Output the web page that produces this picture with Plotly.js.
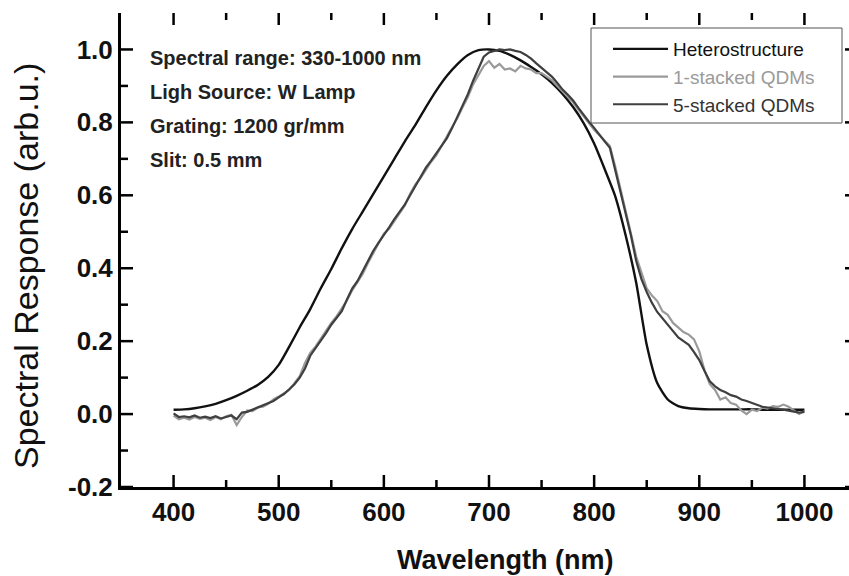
<!DOCTYPE html>
<html>
<head>
<meta charset="utf-8">
<script src="https://cdn.plot.ly/plotly-3.0.1.min.js"></script>
<style>html,body{margin:0;padding:0;background:#fff;overflow:hidden;width:849px;height:576px;}#chart{width:862px;height:576px;}</style>
</head>
<body>
<div id="chart"></div>
<script>
// ---- data ----
const seriesNames = ["Heterostructure", "1-stacked QDMs", "5-stacked QDMs"];

const heteroX = [400,410,420,430,440,450,460,470,480,490,500,510,520,530,540,550,560,570,580,590,600,610,620,630,640,650,660,670,680,690,700,710,720,730,740,750,760,770,780,790,800,810,820,830,840,850,860,870,880,890,900,910,920,930,940,950,960,970,980,990,1000];
const heteroY = [0.012,0.013,0.016,0.021,0.028,0.038,0.050,0.064,0.080,0.102,0.135,0.185,0.238,0.288,0.345,0.398,0.455,0.508,0.556,0.604,0.652,0.700,0.748,0.793,0.842,0.888,0.928,0.960,0.985,0.998,1.000,0.996,0.985,0.970,0.952,0.932,0.908,0.878,0.842,0.798,0.742,0.672,0.598,0.490,0.360,0.190,0.085,0.040,0.022,0.016,0.014,0.013,0.013,0.013,0.013,0.013,0.012,0.012,0.012,0.012,0.012];

const qdmX = [400,405,410,415,420,425,430,435,440,445,450,455,460,465,470,475,480,485,490,495,500,505,510,515,520,525,530,535,540,545,550,555,560,565,570,575,580,585,590,595,600,605,610,615,620,625,630,635,640,645,650,655,660,665,670,675,680,685,690,695,700,705,710,715,720,725,730,735,740,745,750,755,760,765,770,775,780,785,790,795,800,805,810,815,820,825,830,835,840,845,850,855,860,865,870,875,880,885,890,895,900,905,910,915,920,925,930,935,940,945,950,955,960,965,970,975,980,985,990,995,1000];

const oneStackY = [-0.004,-0.014,-0.010,-0.015,-0.008,-0.013,-0.010,-0.016,-0.008,-0.014,-0.006,-0.002,-0.030,-0.008,0.010,0.008,0.018,0.020,0.028,0.040,0.048,0.058,0.066,0.085,0.104,0.140,0.168,0.185,0.205,0.228,0.250,0.268,0.290,0.312,0.340,0.362,0.385,0.415,0.442,0.472,0.495,0.508,0.530,0.552,0.572,0.604,0.630,0.648,0.670,0.692,0.710,0.738,0.762,0.788,0.812,0.842,0.870,0.905,0.932,0.955,0.968,0.950,0.960,0.945,0.948,0.940,0.955,0.948,0.945,0.935,0.935,0.925,0.915,0.900,0.885,0.870,0.855,0.835,0.815,0.798,0.780,0.765,0.752,0.735,0.680,0.620,0.562,0.495,0.432,0.385,0.345,0.325,0.310,0.282,0.272,0.250,0.238,0.225,0.218,0.205,0.172,0.120,0.082,0.066,0.040,0.046,0.030,0.026,0.010,0.000,0.012,0.008,0.018,0.015,0.022,0.020,0.026,0.020,0.010,0.000,0.008];

const fiveStackY = [0.002,-0.008,-0.006,-0.009,-0.004,-0.010,-0.007,-0.011,-0.006,-0.012,-0.008,-0.004,-0.014,0.004,0.006,0.012,0.016,0.022,0.030,0.036,0.046,0.055,0.068,0.082,0.100,0.125,0.160,0.180,0.200,0.222,0.245,0.262,0.282,0.315,0.345,0.365,0.392,0.420,0.448,0.470,0.490,0.512,0.535,0.555,0.575,0.600,0.625,0.650,0.676,0.695,0.715,0.735,0.757,0.785,0.815,0.848,0.878,0.915,0.950,0.980,0.992,0.996,1.000,0.998,1.000,0.996,0.993,0.985,0.975,0.962,0.950,0.938,0.925,0.908,0.890,0.876,0.860,0.840,0.820,0.802,0.785,0.765,0.748,0.730,0.670,0.610,0.555,0.490,0.420,0.370,0.335,0.305,0.280,0.262,0.245,0.228,0.210,0.200,0.190,0.170,0.148,0.118,0.090,0.076,0.066,0.060,0.052,0.048,0.040,0.036,0.030,0.024,0.020,0.018,0.015,0.014,0.012,0.010,0.008,0.004,0.006];

const xTickVals = [400,500,600,700,800,900,1000];
const xTickText = ["400","500","600","700","800","900","1000"];
const xMinorVals = [450,550,650,750,850,950];
const yTickVals = [-0.2,0,0.2,0.4,0.6,0.8,1.0];
const yTickText = ["-0.2","0.0","0.2","0.4","0.6","0.8","1.0"];
const yMinorVals = [-0.1,0.1,0.3,0.5,0.7,0.9];

const infoLines = ["Spectral range: 330-1000 nm","Ligh Source: W Lamp","Grating: 1200 gr/mm","Slit: 0.5 mm"];

// ---- plot ----
const FONT = "Liberation Sans, Arial, sans-serif";
const XR = [350, 1050], YR = [-0.2, 1.1];
const PW = 736, PH = 474;
const px = v => (v - 121) / PW;    // pixel x -> paper
const py = v => (487 - v) / PH;    // pixel y -> paper
const dx = len => len * (XR[1] - XR[0]) / PW;   // pixel length -> x data units
const dy = len => len * (YR[1] - YR[0]) / PH;   // pixel length -> y data units

// inward tick marks on all four sides, built from the tick arrays
const tkX = [], tkY = [];
function seg(x0, y0, x1, y1) { tkX.push(x0, x1, null); tkY.push(y0, y1, null); }
xTickVals.forEach(v => { seg(v, YR[0], v, YR[0] + dy(12)); seg(v, YR[1], v, YR[1] - dy(12)); });
xMinorVals.forEach(v => { seg(v, YR[0], v, YR[0] + dy(7)); seg(v, YR[1], v, YR[1] - dy(7)); });
yTickVals.forEach(v => { seg(XR[0], v, XR[0] + dx(12), v); seg(XR[1], v, XR[1] - dx(12), v); });
yMinorVals.forEach(v => { seg(XR[0], v, XR[0] + dx(7), v); seg(XR[1], v, XR[1] - dx(7), v); });

const traces = [
  {x: heteroX, y: heteroY, name: seriesNames[0], type: "scatter", mode: "lines",
   line: {color: "#111111", width: 2.4, shape: "spline", smoothing: 0.6}},
  {x: qdmX, y: oneStackY, name: '<span style="color:#9a9a9a">' + seriesNames[1] + '</span>', type: "scatter", mode: "lines",
   line: {color: "#9a9a9a", width: 2.2}},
  {x: qdmX, y: fiveStackY, name: '<span style="color:#333333">' + seriesNames[2] + '</span>', type: "scatter", mode: "lines",
   line: {color: "#3f3f3f", width: 2.2}},
  {x: tkX, y: tkY, type: "scatter", mode: "lines", showlegend: false, hoverinfo: "skip",
   cliponaxis: false, connectgaps: false, line: {color: "#000000", width: 2.5}},
  {x: [XR[0] - dx(1.5), XR[1]], y: [YR[1] + dy(1.5), YR[1] + dy(1.5)], type: "scatter", mode: "lines",
   showlegend: false, hoverinfo: "skip", cliponaxis: false, line: {color: "#000000", width: 3}}
];

const axFont = {family: FONT, size: 26, color: "#111"};
const bold = s => "<b>" + s + "</b>";

const annotations = infoLines.map((t, i) => ({
  text: bold(t), xref: "paper", yref: "paper",
  x: px(148), y: py(58 + i * 34),
  xanchor: "left", yanchor: "middle", showarrow: false,
  font: {family: FONT, size: 20, color: "#222"}
}));
annotations.push({
  text: bold("Wavelength (nm)"), xref: "paper", yref: "paper",
  x: px(505), y: py(560), xanchor: "center", yanchor: "middle",
  showarrow: false, font: {family: FONT, size: 27, color: "#111"}
});
annotations.push({
  text: "Spectral Response (arb.u.)", xref: "paper", yref: "paper", textangle: -90,
  x: px(26), y: py(266), xanchor: "center", yanchor: "middle",
  showarrow: false, font: {family: FONT, size: 34, color: "#111"}
});

const layout = {
  width: 862, height: 576,
  margin: {l: 121, r: 5, t: 13, b: 89},
  paper_bgcolor: "#ffffff", plot_bgcolor: "#ffffff",
  showlegend: true,
  legend: {
    x: px(608), y: py(30), xanchor: "left", yanchor: "top",
    bgcolor: "rgba(0,0,0,0)", borderwidth: 0,
    font: {family: FONT, size: 19, color: "#111"},
    itemwidth: 55, tracegroupgap: 0
  },
  shapes: [
    {type: "rect", xref: "paper", yref: "paper", x0: px(591), x1: px(842), y0: py(28), y1: py(123),
     line: {color: "#555555", width: 1}, fillcolor: "rgba(0,0,0,0)", layer: "above"}
  ],
  xaxis: {
    range: XR, zeroline: false, showgrid: false,
    showline: true, linecolor: "#000", linewidth: 3, ticks: "",
    tickmode: "array", tickvals: xTickVals, ticktext: xTickText.map(bold),
    tickfont: axFont
  },
  yaxis: {
    range: YR, zeroline: false, showgrid: false,
    showline: true, linecolor: "#000", linewidth: 3, ticks: "",
    tickmode: "array", tickvals: yTickVals, ticktext: yTickText.map(bold),
    tickfont: axFont
  },
  annotations: annotations
};

Plotly.newPlot("chart", traces, layout, {displayModeBar: false, staticPlot: true});
</script>
</body>
</html>
